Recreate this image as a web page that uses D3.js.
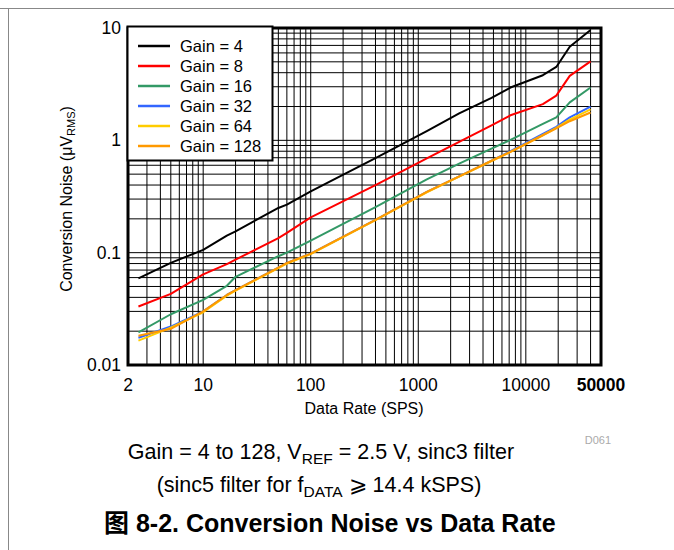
<!DOCTYPE html>
<html><head><meta charset="utf-8">
<script src="https://cdn.jsdelivr.net/npm/d3@7"></script>
<style>
html,body{margin:0;padding:0;background:#fff;}
svg text{font-family:"Liberation Sans",Arial,"Noto Sans CJK SC",sans-serif;}
</style></head>
<body><svg id="c" width="674" height="550"></svg>
<script>
const rates = [2.5, 5, 10, 16.6, 20, 50, 60, 100, 400, 1200, 2400, 4800, 7200, 14400, 19200, 25600, 40000];
const gain4 = [0.059, 0.081, 0.106, 0.142, 0.155, 0.25, 0.268, 0.352, 0.695, 1.21, 1.74, 2.39, 2.95, 3.8, 4.5, 6.8, 9.6];
const gain8 = [0.0332, 0.043, 0.064, 0.079, 0.0866, 0.135, 0.15, 0.206, 0.40, 0.69, 0.97, 1.36, 1.67, 2.1, 2.5, 3.75, 5.04];
const gain16 = [0.0195, 0.0283, 0.038, 0.0507, 0.061, 0.093, 0.10, 0.128, 0.254, 0.449, 0.62, 0.845, 1.01, 1.40, 1.60, 2.18, 2.95];
const gain32 = [0.0175, 0.022, 0.030, 0.042, 0.0465, 0.0735, 0.081, 0.098, 0.196, 0.347, 0.477, 0.66, 0.80, 1.14, 1.32, 1.60, 2.0];
const gain64 = [0.0165, 0.0215, 0.0295, 0.0415, 0.046, 0.073, 0.080, 0.097, 0.195, 0.345, 0.475, 0.655, 0.79, 1.11, 1.29, 1.53, 1.89];
const gain128 = [0.0182, 0.021, 0.030, 0.042, 0.0465, 0.0735, 0.081, 0.098, 0.196, 0.347, 0.477, 0.658, 0.79, 1.11, 1.28, 1.48, 1.77];
const seriesNames = ["Gain = 4", "Gain = 8", "Gain = 16", "Gain = 32", "Gain = 64", "Gain = 128"];
const seriesValues = [gain4, gain8, gain16, gain32, gain64, gain128];
const seriesColors = ["#000000", "#ff0000", "#339966", "#3366ff", "#ffcc00", "#ff9900"];
const xTickValues = [2, 10, 100, 1000, 10000, 50000];
const xTickLabels = ["2", "10", "100", "1000", "10000", "50000"];
const yTickValues = [0.01, 0.1, 1, 10];
const yTickLabels = ["0.01", "0.1", "1", "10"];

const svg = d3.select("#c");
const L = 128, R = 601, T = 28, B = 365;
const x = d3.scaleLog().domain([2, 50000]).range([L, R]);
const y = d3.scaleLog().domain([0.01, 10]).range([B, T]);

// page frame lines
svg.append("line").attr("x1", 0).attr("x2", 674).attr("y1", 8.5).attr("y2", 8.5).attr("stroke", "#888").attr("stroke-width", 1);
svg.append("line").attr("x1", 8.5).attr("x2", 8.5).attr("y1", 8).attr("y2", 550).attr("stroke", "#888").attr("stroke-width", 1);

// grid
const xg = [], yg = [];
for (let d = 1; d <= 10000; d *= 10) for (let m = 1; m <= 9; m++) { const v = d * m; if (v > 2 && v < 50000) xg.push(v); }
for (let d = 0.01; d <= 1.001; d *= 10) for (let m = 1; m <= 9; m++) { const v = +(d * m).toPrecision(3); if (v > 0.01 && v < 10) yg.push(v); }
const g = svg.append("g");
g.selectAll("line.xg").data(xg).enter().append("line")
  .attr("x1", d => x(d)).attr("x2", d => x(d)).attr("y1", T).attr("y2", B)
  .attr("stroke", "#000").attr("stroke-width", 1);
g.selectAll("line.yg").data(yg).enter().append("line")
  .attr("y1", d => y(d)).attr("y2", d => y(d)).attr("x1", L).attr("x2", R)
  .attr("stroke", "#000").attr("stroke-width", 1);

// frame
svg.append("rect").attr("x", L).attr("y", T).attr("width", R - L).attr("height", B - T)
  .attr("fill", "none").attr("stroke", "#000").attr("stroke-width", 3);

// curves
const line = d3.line().x((d, i) => x(rates[i])).y(d => y(d));
seriesValues.forEach((vals, k) => {
  svg.append("path").datum(vals).attr("d", line).attr("fill", "none")
    .attr("stroke", seriesColors[k]).attr("stroke-width", 2).attr("stroke-linejoin", "round");
});

// legend
const lg = svg.append("g");
lg.append("rect").attr("x", 127.5).attr("y", 26.5).attr("width", 145).attr("height", 134)
  .attr("fill", "#fff").attr("stroke", "#000").attr("stroke-width", 2);
seriesNames.forEach((n, k) => {
  const yy = 46 + k * 20;
  lg.append("line").attr("x1", 138).attr("x2", 170).attr("y1", yy).attr("y2", yy)
    .attr("stroke", seriesColors[k]).attr("stroke-width", 2.5);
  lg.append("text").attr("x", 180).attr("y", yy + 6).attr("font-size", 16.5).attr("fill", "#000").text(n);
});

// tick labels
svg.selectAll("text.yt").data(yTickValues).enter().append("text")
  .attr("x", 121).attr("y", d => y(d) + 6).attr("text-anchor", "end").attr("font-size", 17.5).attr("fill", "#000")
  .text((d, i) => yTickLabels[i]);
svg.selectAll("text.xt").data(xTickValues).enter().append("text")
  .attr("x", d => x(d)).attr("y", 391).attr("text-anchor", "middle").attr("font-size", 17.5).attr("fill", "#000")
  .attr("font-weight", (d, i) => i === xTickValues.length - 1 ? "bold" : "normal")
  .text((d, i) => xTickLabels[i]);

// axis titles
svg.append("text").attr("x", 364).attr("y", 414).attr("text-anchor", "middle").attr("font-size", 16).text("Data Rate (SPS)");
const yt = svg.append("text").attr("transform", "translate(72,199) rotate(-90)").attr("text-anchor", "middle").attr("font-size", 16);
yt.append("tspan").text("Conversion Noise (μV");
yt.append("tspan").attr("font-size", 11).attr("dy", 3).text("RMS");
yt.append("tspan").attr("dy", -3).text(")");
svg.append("text").attr("x", 611).attr("y", 444).attr("text-anchor", "end").attr("font-size", 11).attr("fill", "#aaa").text("D061");

// captions
const c1 = svg.append("text").attr("x", 321).attr("y", 459).attr("text-anchor", "middle").attr("font-size", 21.5);
c1.append("tspan").text("Gain = 4 to 128, V");
c1.append("tspan").attr("font-size", 15.5).attr("dy", 5).text("REF");
c1.append("tspan").attr("dy", -5).text(" = 2.5 V, sinc3 filter");
const c2 = svg.append("text").attr("x", 319).attr("y", 492).attr("text-anchor", "middle").attr("font-size", 21.5);
c2.append("tspan").text("(sinc5 filter for f");
c2.append("tspan").attr("font-size", 15.5).attr("dy", 5).text("DATA");
c2.append("tspan").attr("dy", -5).text(" ⩾ 14.4 kSPS)");
svg.append("text").attr("x", 104).attr("y", 532).attr("font-size", 25).attr("font-weight", "bold")
  .text("图 8-2. Conversion Noise vs Data Rate");
</script></body></html>
